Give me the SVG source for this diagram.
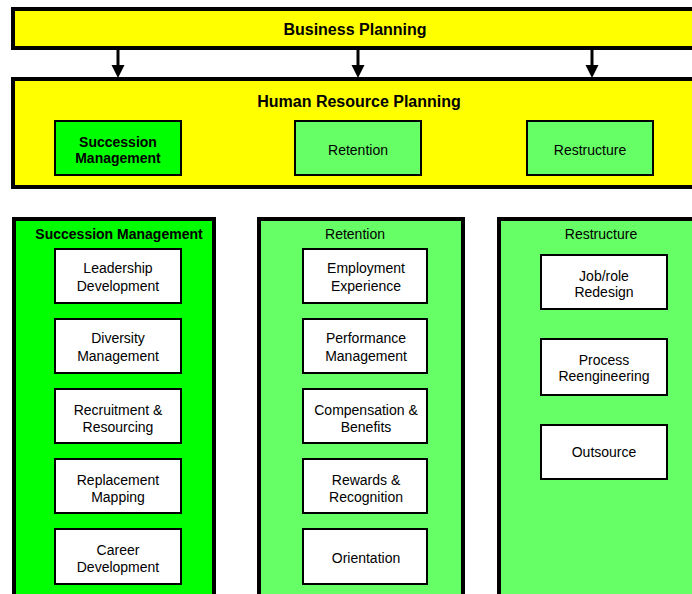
<svg xmlns="http://www.w3.org/2000/svg" width="692" height="594" viewBox="0 0 692 594">
<style>
text{font-family:"Liberation Sans",Arial,sans-serif;font-size:14px;fill:#000;text-anchor:middle}
.b{font-weight:bold}
.big{font-size:16px;font-weight:bold}
.yel{fill:#FFFF00;stroke:#000;stroke-width:4}
.col{stroke:#000;stroke-width:4}
.g1{fill:#00FF00}
.g2{fill:#66FF66}
.box{fill:#fff;stroke:#000;stroke-width:2}
.hb{stroke:#000;stroke-width:2}
.con{stroke:#000;stroke-width:3;fill:none}
</style>
<defs>
<marker id="ah" markerUnits="userSpaceOnUse" markerWidth="14" markerHeight="13" refX="7" refY="12" orient="auto-start-reverse" viewBox="0 0 14 13">
<path d="M0.5,0 L13.5,0 L7,13 Z" fill="#000" transform="rotate(0)"/>
</marker>
</defs>
<rect width="692" height="594" fill="#fff"/>
<g id="business-planning">
<rect class="yel" x="13" y="9" width="720" height="39"/>
<text class="big" x="355" y="35">Business Planning</text>
</g>
<g id="connectors">
<line class="con" x1="118" y1="50" x2="118" y2="66"/>
<path d="M111.5,65 L124.5,65 L118,78 Z"/>
<line class="con" x1="358" y1="50" x2="358" y2="66"/>
<path d="M351.5,65 L364.5,65 L358,78 Z"/>
<line class="con" x1="592" y1="50" x2="592" y2="66"/>
<path d="M585.5,65 L598.5,65 L592,78 Z"/>
</g>
<g id="hr-planning">
<rect class="yel" x="13" y="79" width="720" height="108"/>
<text class="big" x="359" y="107">Human Resource Planning</text>
</g>
<g id="hr-succession">
<rect class="hb g1" x="55" y="121" width="126" height="54"/>
<text class="b" x="118" y="147">Succession</text>
<text class="b" x="118" y="163">Management</text>
</g>
<g id="hr-retention">
<rect class="hb g2" x="295" y="121" width="126" height="54"/>
<text x="358" y="155">Retention</text>
</g>
<g id="hr-restructure">
<rect class="hb g2" x="527" y="121" width="126" height="54"/>
<text x="590" y="155">Restructure</text>
</g>
<g id="col-succession">
<rect class="col g1" x="14" y="219" width="200" height="400"/>
<text class="b" x="119" y="239">Succession Management</text>
</g>
<g id="col-retention">
<rect class="col g2" x="259" y="219" width="204" height="400"/>
<text x="355" y="239">Retention</text>
</g>
<g id="col-restructure">
<rect class="col g2" x="499" y="219" width="300" height="400"/>
<text x="601" y="239">Restructure</text>
</g>
<g id="leadership-development">
<rect class="box" x="55" y="249" width="126" height="54"/>
<text x="118" y="273">Leadership</text><text x="118" y="291">Development</text>
</g>
<g id="diversity-management">
<rect class="box" x="55" y="319" width="126" height="54"/>
<text x="118" y="343">Diversity</text><text x="118" y="361">Management</text>
</g>
<g id="recruitment-resourcing">
<rect class="box" x="55" y="389" width="126" height="54"/>
<text x="118" y="415">Recruitment &amp;</text><text x="118" y="432">Resourcing</text>
</g>
<g id="replacement-mapping">
<rect class="box" x="55" y="459" width="126" height="54"/>
<text x="118" y="485">Replacement</text><text x="118" y="502">Mapping</text>
</g>
<g id="career-development">
<rect class="box" x="55" y="529" width="126" height="55"/>
<text x="118" y="555">Career</text><text x="118" y="572">Development</text>
</g>
<g id="employment-experience">
<rect class="box" x="303" y="249" width="124" height="54"/>
<text x="366" y="273">Employment</text><text x="366" y="291">Experience</text>
</g>
<g id="performance-management">
<rect class="box" x="303" y="319" width="124" height="54"/>
<text x="366" y="343">Performance</text><text x="366" y="361">Management</text>
</g>
<g id="compensation-benefits">
<rect class="box" x="303" y="389" width="124" height="54"/>
<text x="366" y="415">Compensation &amp;</text><text x="366" y="432">Benefits</text>
</g>
<g id="rewards-recognition">
<rect class="box" x="303" y="459" width="124" height="54"/>
<text x="366" y="485">Rewards &amp;</text><text x="366" y="502">Recognition</text>
</g>
<g id="orientation">
<rect class="box" x="303" y="529" width="124" height="55"/>
<text x="366" y="563">Orientation</text>
</g>
<g id="job-role-redesign">
<rect class="box" x="541" y="255" width="126" height="54"/>
<text x="604" y="281">Job/role</text><text x="604" y="297">Redesign</text>
</g>
<g id="process-reengineering">
<rect class="box" x="541" y="339" width="126" height="56"/>
<text x="604" y="365">Process</text><text x="604" y="381">Reengineering</text>
</g>
<g id="outsource">
<rect class="box" x="541" y="425" width="126" height="54"/>
<text x="604" y="457">Outsource</text>
</g>
</svg>
